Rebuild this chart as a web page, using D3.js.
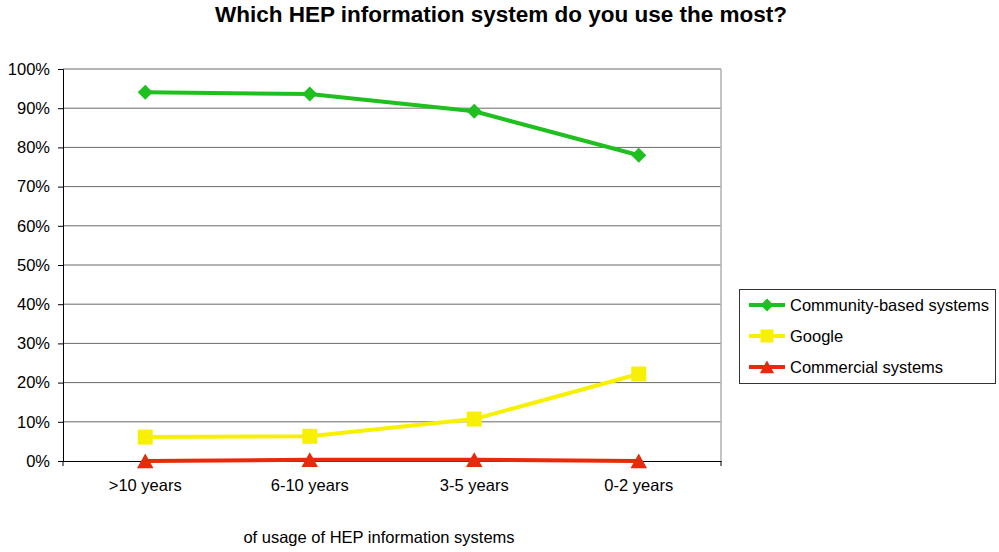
<!DOCTYPE html>
<html><head><meta charset="utf-8">
<script src="https://cdn.jsdelivr.net/npm/d3@7"></script>
<style>body{margin:0;background:#fff}svg{display:block;font-family:"Liberation Sans",Arial,sans-serif}</style>
</head><body><svg id="c" width="999" height="552"></svg>
<script>
const categories = [">10 years", "6-10 years", "3-5 years", "0-2 years"];
const community = [94.1, 93.6, 89.2, 78.0];
const google = [6.1, 6.3, 10.7, 22.2];
const commercial = [0.0, 0.3, 0.3, 0.0];
const yTicks = [0,10,20,30,40,50,60,70,80,90,100];
const seriesNames = ["Community-based systems", "Google", "Commercial systems"];
const seriesColors = ["#1fbf1f", "#f7f000", "#e8290b"];

const FS = 16.5;
const svg = d3.select("#c");
const L = 63, R = 721, T = 69, B = 461;
const x = d3.scaleBand().domain(categories).range([L, R]);
const y = d3.scaleLinear().domain([0, 100]).range([B, T]);

svg.append("text").attr("x", 501).attr("y", 22).attr("text-anchor", "middle")
  .attr("font-size", 22.5).attr("font-weight", "bold").text("Which HEP information system do you use the most?");

svg.append("g").selectAll("line").data(yTicks.filter(d => d > 0)).join("line")
  .attr("x1", L).attr("x2", R).attr("y1", d => y(d)).attr("y2", d => y(d))
  .attr("stroke", "#6a6a6a").attr("stroke-width", 1);
svg.append("line").attr("x1", R).attr("x2", R).attr("y1", T).attr("y2", B).attr("stroke", "#b0b0b0").attr("stroke-width", 1.5);

const yAxis = svg.append("g").attr("transform", `translate(${L},0)`)
  .call(d3.axisLeft(y).tickValues(yTicks).tickFormat(d => d + "%").tickSize(5).tickPadding(8));
yAxis.selectAll("text").attr("font-size", FS).attr("fill", "#000").style("font-family", "Liberation Sans, Arial, sans-serif");
yAxis.select(".domain").attr("stroke", "#000");
yAxis.selectAll(".tick line").attr("stroke", "#000");

const xAxis = svg.append("g").attr("transform", `translate(0,${B})`)
  .call(d3.axisBottom(x).tickSize(0).tickPadding(0));
xAxis.selectAll("text").attr("font-size", FS).attr("fill", "#000").attr("dy", null).attr("y", 30)
  .style("font-family", "Liberation Sans, Arial, sans-serif");
xAxis.select(".domain").attr("stroke", "#000");
svg.append("g").selectAll("line").data([L, R]).join("line")
  .attr("x1", d => d).attr("x2", d => d).attr("y1", B).attr("y2", B + 5).attr("stroke", "#000");

svg.append("text").attr("x", 379).attr("y", 543).attr("text-anchor", "middle").attr("font-size", FS)
  .text("of usage of HEP information systems");

const diamond = s => `M0,${-s}L${s},0L0,${s}L${-s},0Z`;
const square = s => `M${-s},${-s}H${s}V${s}H${-s}Z`;
const triangle = s => `M0,${-s}L${s * 1.1},${s * 0.95}H${-s * 1.1}Z`;
const shapes = [diamond(7.5), square(7.5), triangle(7.5)];
const shapesLg = [diamond(6.5), square(6.5), triangle(6.5)];

const cx = c => x(c) + x.bandwidth() / 2;
const data = [community, google, commercial];
const line = d3.line().x((d, i) => cx(categories[i])).y(d => y(d));
[2, 1, 0].forEach(s => {
  svg.append("path").datum(data[s]).attr("d", line).attr("fill", "none")
    .attr("stroke", seriesColors[s]).attr("stroke-width", 4);
  svg.append("g").selectAll("path").data(data[s]).join("path")
    .attr("transform", (d, i) => `translate(${cx(categories[i])},${y(d)})`)
    .attr("d", shapes[s]).attr("fill", seriesColors[s]);
});

const lg = svg.append("g");
lg.append("rect").attr("x", 739.5).attr("y", 289.5).attr("width", 256).attr("height", 94)
  .attr("fill", "#fff").attr("stroke", "#333").attr("stroke-width", 1);
seriesNames.forEach((n, i) => {
  const yy = 305 + i * 31;
  lg.append("line").attr("x1", 749).attr("x2", 785).attr("y1", yy).attr("y2", yy)
    .attr("stroke", seriesColors[i]).attr("stroke-width", 4);
  lg.append("path").attr("transform", `translate(767,${yy})`)
    .attr("d", shapesLg[i]).attr("fill", seriesColors[i]);
  lg.append("text").attr("x", 790).attr("y", yy + 6).attr("font-size", FS).text(n);
});
</script></body></html>
